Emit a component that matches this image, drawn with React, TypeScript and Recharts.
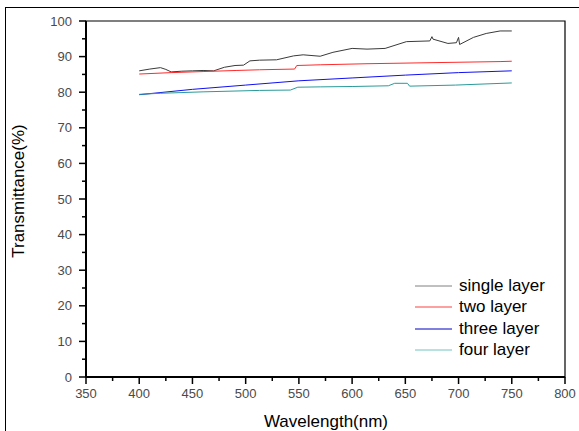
import React from "react";
import { LineChart, Line, XAxis, YAxis, ReferenceArea, Legend } from "recharts";

// Transmittance spectra of the four coatings.
const singleWl = [400, 410, 420, 425, 430, 440, 450, 460, 470, 480, 490, 498, 504, 513, 529, 545, 554, 570, 582, 600, 614, 631, 651, 673, 675, 676, 690, 698, 700, 701, 714, 726, 739, 750];
const singleT = [86.0, 86.5, 86.9, 86.4, 85.7, 85.9, 86.0, 86.1, 86.0, 87.0, 87.5, 87.6, 88.8, 89.0, 89.1, 90.2, 90.5, 90.1, 91.2, 92.3, 92.1, 92.3, 94.2, 94.4, 95.6, 94.9, 93.7, 93.9, 95.4, 93.4, 95.4, 96.5, 97.2, 97.2];

const twoWl = [400, 430, 460, 491, 513, 546, 548, 570, 614, 676, 739, 750];
const twoT = [85.1, 85.5, 85.8, 86.1, 86.3, 86.5, 87.5, 87.7, 88.0, 88.3, 88.6, 88.7];

const threeWl = [400, 450, 500, 550, 600, 650, 700, 750];
const threeT = [79.3, 80.8, 82.0, 83.2, 84.0, 84.8, 85.5, 86.0];

const fourWl = [400, 420, 460, 513, 542, 549, 570, 600, 634, 640, 652, 654, 697, 750];
const fourT = [79.4, 79.7, 80.1, 80.5, 80.6, 81.4, 81.5, 81.6, 81.8, 82.5, 82.5, 81.7, 82.0, 82.6];

const xTicks = [350, 375, 400, 425, 450, 475, 500, 525, 550, 575, 600, 625, 650, 675, 700, 725, 750, 775, 800];
const yTicks = [0, 5, 10, 15, 20, 25, 30, 35, 40, 45, 50, 55, 60, 65, 70, 75, 80, 85, 90, 95, 100];

const toPoints = (xs: number[], ys: number[]) => xs.map((x, i) => ({ x, y: ys[i] }));

const series = [
  { name: "single layer", color: "#3a3a3a", legendColor: "#808080", data: toPoints(singleWl, singleT) },
  { name: "two layer", color: "#ff2a2a", legendColor: "#ff4040", data: toPoints(twoWl, twoT) },
  { name: "three layer", color: "#1010f0", legendColor: "#0000c0", data: toPoints(threeWl, threeT) },
  { name: "four layer", color: "#2a9a9a", legendColor: "#6cc4c4", data: toPoints(fourWl, fourT) },
];

const FONT = "'Liberation Sans', Arial, sans-serif";

function XTick({ x, y, payload }: any) {
  const major = payload.value % 50 === 0;
  return (
    <g>
      <line x1={x} x2={x} y1={y} y2={y + (major ? 7 : 4)} stroke="#000" strokeWidth={1.5} />
      {major && (
        <text x={x} y={y + 21} textAnchor="middle" fontSize={13} fill="#4a4a4a" fontFamily={FONT}>
          {payload.value}
        </text>
      )}
    </g>
  );
}

function YTick({ x, y, payload }: any) {
  const major = payload.value % 10 === 0;
  return (
    <g>
      <line x1={x - (major ? 7 : 4)} x2={x} y1={y} y2={y} stroke="#000" strokeWidth={1.5} />
      {major && (
        <text x={x - 14} y={y + 4.5} textAnchor="end" fontSize={13} fill="#4a4a4a" fontFamily={FONT}>
          {payload.value}
        </text>
      )}
    </g>
  );
}

function LegendBox() {
  return (
    <div style={{ fontFamily: FONT, fontSize: 17, color: "#000" }}>
      {series.map((s) => (
        <div key={s.name} style={{ display: "flex", alignItems: "center", height: 21.5 }}>
          <svg width={44} height={4}>
            <line x1={0} x2={37} y1={2} y2={2} stroke={s.legendColor} strokeWidth={1} />
          </svg>
          <span>{s.name}</span>
        </div>
      ))}
    </div>
  );
}

export default function App() {
  return (
    <div style={{ position: "fixed", left: 0, top: 0, width: 579, height: 431, background: "#fff", overflow: "hidden" }}>
      <LineChart width={579} height={431} margin={{ top: 21, right: 14, bottom: 24, left: 26 }}>
        <XAxis
          type="number"
          dataKey="x"
          domain={[350, 800]}
          ticks={xTicks}
          interval={0}
          tickSize={0}
          tickMargin={0}
          tickLine={false}
          tick={<XTick />}
          height={30}
          axisLine={{ stroke: "#000", strokeWidth: 2 }}
          allowDataOverflow
        />
        <YAxis
          type="number"
          domain={[0, 100]}
          ticks={yTicks}
          interval={0}
          tickSize={0}
          tickMargin={0}
          tickLine={false}
          tick={<YTick />}
          width={60}
          axisLine={{ stroke: "#000", strokeWidth: 2 }}
        />
        <ReferenceArea x1={350} x2={800} y1={0} y2={100} fill="none" stroke="#000" strokeWidth={1.2} ifOverflow="visible" />
        {series.map((s) => (
          <Line
            key={s.name}
            data={s.data}
            dataKey="y"
            name={s.name}
            type="linear"
            stroke={s.color}
            strokeWidth={1}
            dot={false}
            activeDot={false}
            isAnimationActive={false}
          />
        ))}
        <Legend
          layout="horizontal"
          verticalAlign="middle"
          align="center"
          content={<LegendBox />}
          wrapperStyle={{ left: 415, top: 275, width: 160 }}
        />
      </LineChart>
      {/* outer frame of the exported figure */}
      <div style={{ position: "absolute", left: 5, top: 7, width: 600, height: 440, borderTop: "1px solid #000", borderLeft: "1px solid #000", pointerEvents: "none" }} />
      <div style={{ position: "absolute", left: 326, top: 422, transform: "translate(-50%, -50%)", fontFamily: FONT, fontSize: 17, whiteSpace: "nowrap", color: "#000" }}>
        Wavelength(nm)
      </div>
      <div style={{ position: "absolute", left: 19, top: 191, transform: "translate(-50%, -50%) rotate(-90deg)", fontFamily: FONT, fontSize: 17, whiteSpace: "nowrap", color: "#000" }}>
        Transmittance(%)
      </div>
    </div>
  );
}
